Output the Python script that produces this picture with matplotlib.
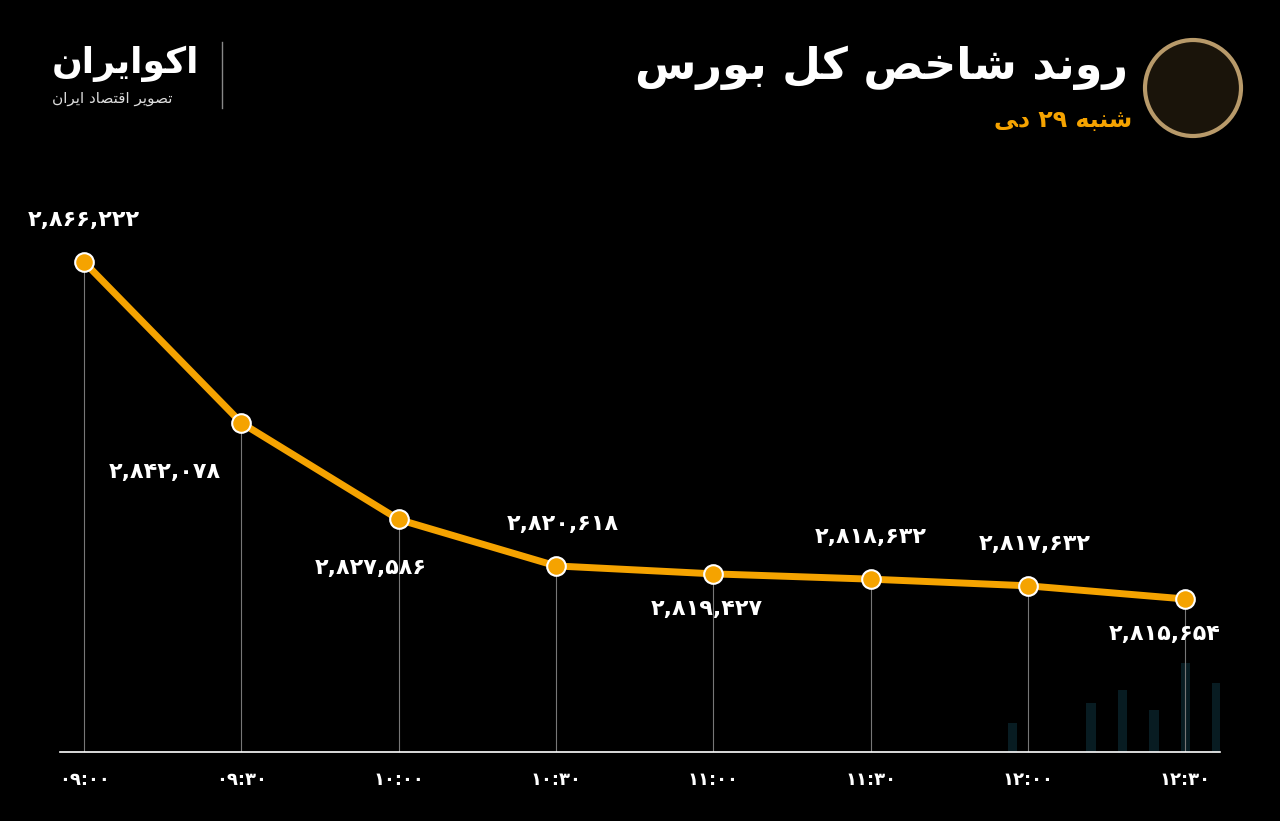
import matplotlib
matplotlib.use("Agg")
from matplotlib import pyplot as plt
from matplotlib.patches import Ellipse

# data
times = ["09:00", "09:30", "10:00", "10:30", "11:00", "11:30", "12:00", "12:30"]
values = [2866222, 2842078, 2827586, 2820618, 2819427, 2818632, 2817632, 2815654]

FA = str.maketrans("0123456789", "۰۱۲۳۴۵۶۷۸۹")
def fa(s):
    return s.translate(FA)

plt.rcParams['font.family'] = ['DejaVu Sans']
orange = "#F5A300"

fig = plt.figure(figsize=(12.8, 8.21), dpi=100, facecolor="black")
ax = fig.add_axes([60/1280, 69/821, 1160/1280, 602/821])
ax.set_facecolor("black")
x = list(range(len(values)))
ax.set_xlim(-0.153, 7.22)
ax.set_ylim(2792695, 2883029)

# faint background bars
bx = [6.4, 6.6, 6.8, 7.0, 7.2, 5.9]
bh = [2800000, 2802000, 2799000, 2806000, 2803000, 2797000]
ax.bar(bx, [b - 2792695 for b in bh], bottom=2792695, width=0.06, color="#081c22", zorder=0)

for xi, v in zip(x, values):
    ax.plot([xi, xi], [2792695, v], color="#777777", lw=0.8, zorder=1)
ax.plot(x, values, color=orange, lw=5, zorder=2, solid_capstyle="round")
ax.scatter(x, values, s=180, color=orange, edgecolor="white", linewidth=1.5, zorder=3)

offsets = [(0, 30), (-55, -35), (-20, -35), (5, 30), (-5, -25), (0, 30), (5, 30), (-15, -25)]
for xi, v, off in zip(x, values, offsets):
    ax.annotate(fa(f"{v:,}"), (xi, v), xytext=off, textcoords="offset points",
                ha="center", va="center", color="white", fontsize=16, fontweight="bold")

for s in ["top", "right", "left"]:
    ax.spines[s].set_visible(False)
ax.spines["bottom"].set_color("white")
ax.spines["bottom"].set_linewidth(1.2)
ax.set_yticks([])
ax.set_xticks(x)
ax.set_xticklabels([fa(t) for t in times], color="white", fontsize=13, fontweight="bold")
ax.tick_params(axis="x", length=0, pad=14)

title = "\uFEB1\uFEAD\uFEEE\uFE91 \uFEDE\uFB90 \uFEBA\uFEA7\uFE8E\uFEB7 \uFEAA\uFEE7\uFEED\uFEAD"
fig.text(1128/1280, 1 - 68/821, title, ha="right", va="center", color="white",
         fontsize=32, fontweight="bold")
sub = "\uFBFD\uFEA9 " + fa("29") + " \uFEEA\uFE92\uFEE8\uFEB7"
fig.text(1132/1280, 1 - 120/821, sub, ha="right", va="center", color=orange,
         fontsize=17, fontweight="bold")

logo = "\uFEE5\uFE8D\uFEAE\uFBFE\uFE8D\uFEEE\uFB90\uFE8D"
fig.text(52/1280, 1 - 64/821, logo, ha="left", va="center", color="white",
         fontsize=26, fontweight="bold")
logo2 = ("\uFEE5\uFE8D\uFEAE\uFBFE\uFE8D \uFEA9\uFE8E\uFEBC\uFE98\uFED7\uFE8D "
         "\uFEAE\uFBFE\uFEEE\uFEBC\uFE97")
fig.text(52/1280, 1 - 98/821, logo2, ha="left", va="center", color="#dddddd", fontsize=11)
fig.add_artist(plt.Line2D([222/1280, 222/1280], [1 - 42/821, 1 - 108/821], color="#888888", lw=1))
circ = Ellipse((1193/1280, 1 - 88/821), 96/1280, 96/821, transform=fig.transFigure,
               facecolor="#1a140a", edgecolor="#b89a6a", lw=3)
fig.add_artist(circ)

fig.savefig("out.png", dpi=100, facecolor="black")
